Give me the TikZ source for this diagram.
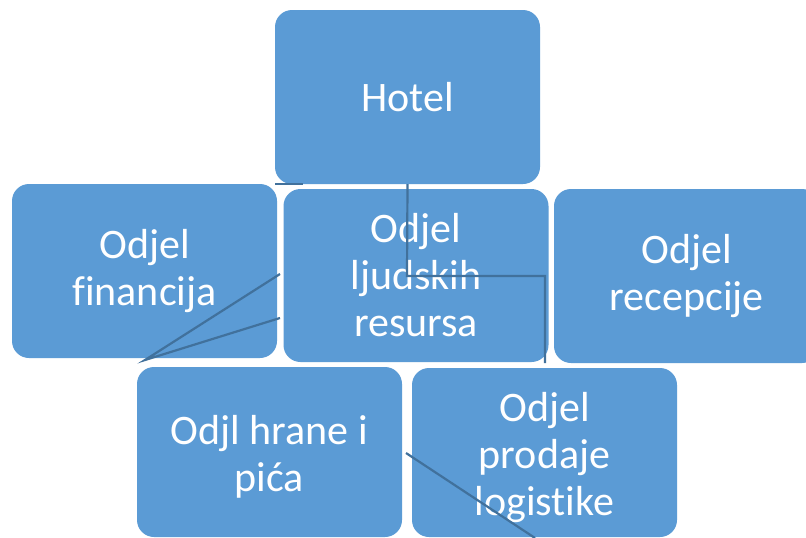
\documentclass[tikz,border=0pt]{standalone}
\usepackage{fontspec}
\setmainfont{Carlito}[Ligatures={NoCommon}]
\definecolor{boxblue}{HTML}{5B9BD5}
\definecolor{linkblue}{HTML}{41719C}
\tikzset{
  boxtext/.style={inner sep=0pt, align=center, text=white,
    font=\fontsize{42pt}{47pt}\selectfont},
  orgbox/.style={boxtext, fill=boxblue, draw=none, rounded corners=17pt, minimum width=265pt,
    minimum height=174pt},
  link/.style={draw=linkblue, line width=2.2pt}
}
\begin{document}
\begin{tikzpicture}[x=1pt,y=-1pt]
\clip (0,0) rectangle (806,538);
\fill[white] (0,0) rectangle (806,538);
\node[orgbox] (hotel) at (407.5,97) {Hotel};
\node[orgbox] (fin) at (144.5,271) {Odjel\\financija};
\node[orgbox, minimum height=173pt] (ljud) at (416,275.5) {Odjel\\ljudskih\\resursa};
\node[orgbox] (rec) at (686.5,276) {Odjel\\recepcije};
\node[orgbox, minimum height=170pt] (hran) at (269.5,452) {};
\node[boxtext] (hrant) at ([yshift=-5pt]hran.center) {Odjl hrane i\\pića};
\node[orgbox, minimum height=169pt] (prod) at (544.5,452.5) {};
\node[boxtext] (prodt) at ([yshift=-5pt]prod.center) {Odjel\\prodaje\\logistike};
% connectors
\coordinate (h1) at (407,276);
\coordinate (h2) at (545,276);
\coordinate (h3) at (545,363);
\draw[link] (hotel.south) -- (h1) -- (h2) -- (h3);
\coordinate (t1) at (275,184);
\coordinate (t2) at (303,184);
\draw[link] (t1) -- (t2);
\coordinate (f0) at (145,360);
\coordinate (f1) at (280,274);
\coordinate (f2) at (280,318);
\draw[link] (f1) -- (f0) -- (f2);
\coordinate (p1) at (406,453);
\coordinate (p2) at (535,538);
\draw[link] (p1) -- (p2);
\end{tikzpicture}
\end{document}
